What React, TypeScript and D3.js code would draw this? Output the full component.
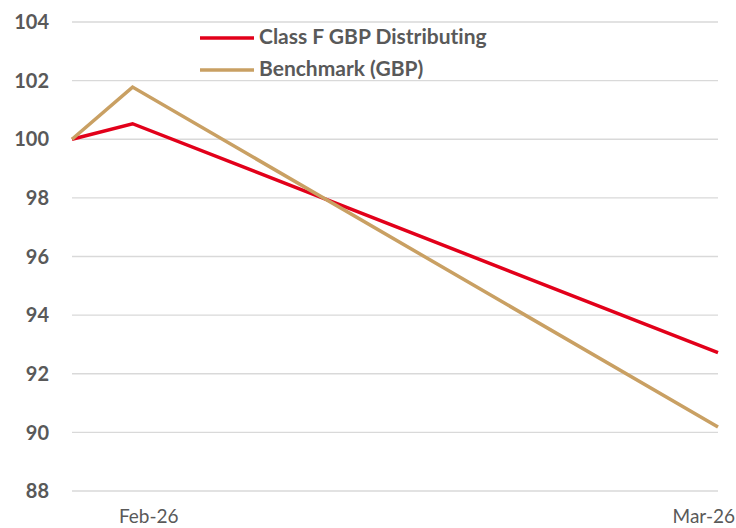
import { useEffect, useRef } from "react";
import * as d3 from "d3";

// ----- Data -----------------------------------------------------------------
const dates = ["2026-01-28", "2026-01-31", "2026-03-01"];
const classF = [100, 100.53, 92.72];
const benchmark = [100, 101.78, 90.18];
const yTicks = [88, 90, 92, 94, 96, 98, 100, 102, 104];
const xTickDates = ["2026-02-01", "2026-03-01"];
const xTickLabels = ["Feb-26", "Mar-26"];
const seriesNames = ["Class F GBP Distributing", "Benchmark (GBP)"];
const seriesColors = ["#e2001a", "#c9a063"];

const W = 736;
const H = 528;
const FONT = "Lato, 'Open Sans', sans-serif";
const TEXT = "#595959";

const App = () => {
  const svgRef = useRef<SVGSVGElement | null>(null);

  useEffect(() => {
    const svg = d3.select(svgRef.current);
    svg.selectAll("*").remove();

    const margin = { top: 22, right: 18, bottom: 37, left: 72 };
    const innerW = W - margin.left - margin.right;
    const innerH = H - margin.top - margin.bottom;

    const parse = d3.timeParse("%Y-%m-%d");
    const xs = dates.map((d) => parse(d) as Date);

    const x = d3
      .scaleTime()
      .domain(d3.extent(xs) as [Date, Date])
      .range([0, innerW]);
    const y = d3.scaleLinear().domain([88, 104]).range([innerH, 0]);

    const g = svg
      .append("g")
      .attr("transform", `translate(${margin.left},${margin.top})`);

    // gridlines
    g.append("g")
      .selectAll("line")
      .data(yTicks)
      .join("line")
      .attr("x1", 0)
      .attr("x2", innerW)
      .attr("y1", (d) => y(d))
      .attr("y2", (d) => y(d))
      .attr("stroke", "#d9d9d9")
      .attr("stroke-width", 1.3);

    // y labels
    g.append("g")
      .selectAll("text")
      .data(yTicks)
      .join("text")
      .attr("x", -23)
      .attr("y", (d) => y(d))
      .attr("dy", "0.36em")
      .attr("text-anchor", "end")
      .attr("font-family", FONT)
      .attr("font-weight", "bold")
      .attr("font-size", 20)
      .attr("fill", TEXT)
      .text((d) => d);

    // x labels
    const xl = g
      .append("g")
      .selectAll("text")
      .data(xTickDates)
      .join("text")
      .attr("x", (d) => x(parse(d) as Date) - 4)
      .attr("y", 523 - margin.top)
      .attr("text-anchor", "middle")
      .attr("font-family", FONT)
      .attr("font-size", 19)
      .attr("fill", TEXT)
      .text((_, i) => xTickLabels[i]);
    // keep labels inside the canvas
    xl.each(function () {
      const el = this as SVGTextElement;
      const w = el.getComputedTextLength();
      const cx = +el.getAttribute("x")!;
      const maxX = W - margin.left - w / 2 - 1;
      if (cx > maxX) el.setAttribute("x", String(maxX));
    });

    // lines
    const line = d3
      .line<number>()
      .x((_, i) => x(xs[i]))
      .y((d) => y(d));

    [classF, benchmark].forEach((vals, i) => {
      g.append("path")
        .datum(vals)
        .attr("fill", "none")
        .attr("stroke", seriesColors[i])
        .attr("stroke-width", 3.5)
        .attr("stroke-linejoin", "miter")
        .attr("d", line);
    });

    // legend
    const legend = svg.append("g").attr("transform", "translate(200,38)");
    seriesNames.forEach((name, i) => {
      const row = legend.append("g").attr("transform", `translate(0,${i * 32})`);
      row
        .append("line")
        .attr("x1", 0)
        .attr("x2", 54)
        .attr("stroke", seriesColors[i])
        .attr("stroke-width", 3.5);
      row
        .append("text")
        .attr("x", 59)
        .attr("y", 6)
        .attr("font-family", FONT)
        .attr("font-weight", "bold")
        .attr("font-size", 21)
        .attr("fill", TEXT)
        .style("font-variant-ligatures", "none")
        .text(name);
    });
  }, []);

  return (
    <svg
      ref={svgRef}
      width={W}
      height={H}
      style={{ position: "absolute", left: 0, top: 0, background: "#fff" }}
    />
  );
};

export default App;
